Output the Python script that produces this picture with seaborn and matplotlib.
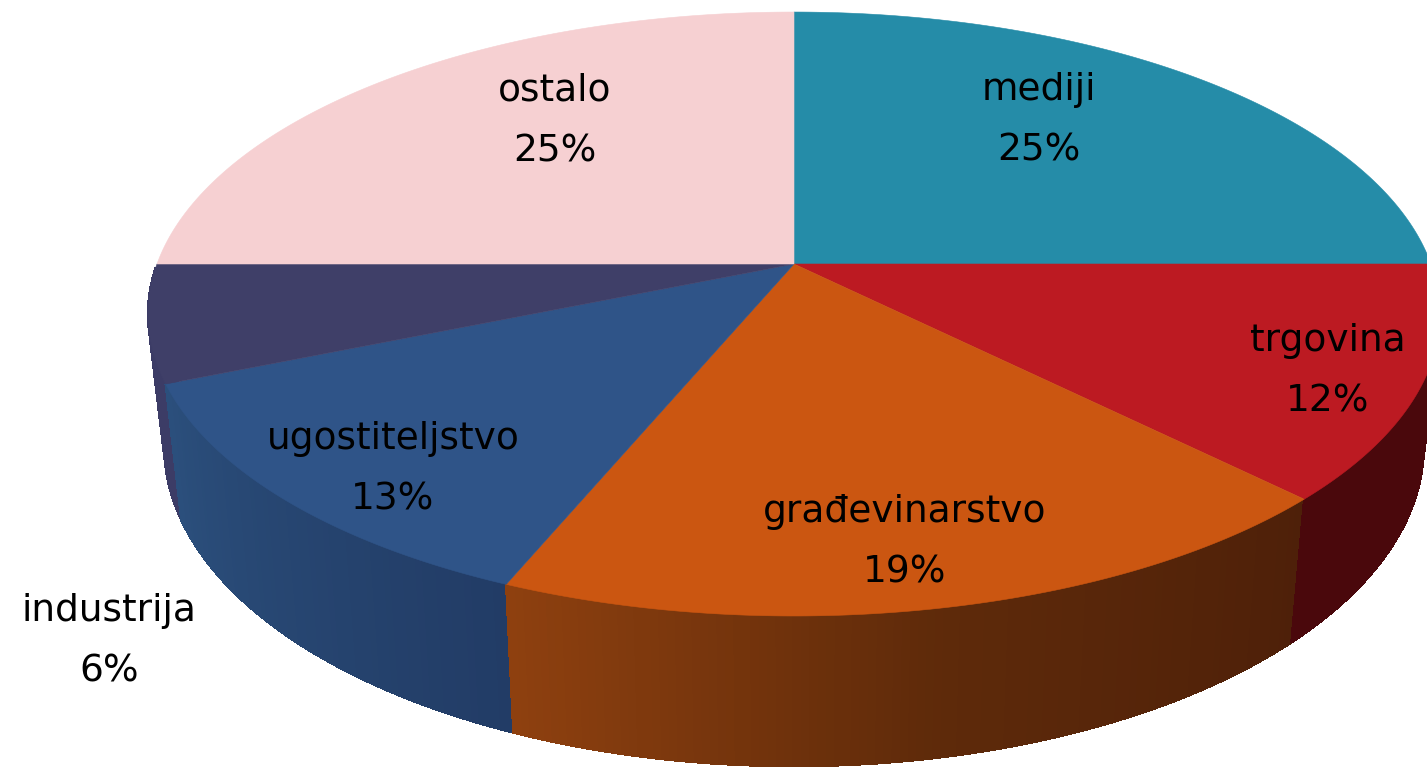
import numpy as np
import matplotlib
matplotlib.use("Agg")
import matplotlib.pyplot as plt
from matplotlib.patches import Rectangle
import seaborn as sns

# --- Data ---
categories = ["mediji", "trgovina", "građevinarstvo", "ugostiteljstvo", "industrija", "ostalo"]
shares = [25, 12.5, 18.75, 12.5, 6.25, 25]
pct_labels = ["25%", "12%", "19%", "13%", "6%", "25%"]

top_colors = ["#258CA8", "#BC1A22", "#CB5611", "#2F5488", "#3F3F68", "#F6D0D2"]
# wall shading stops, right end to left end of each slice (None = wall not visible)
wall_stops = [
    None,
    ["#4A080C", "#4A080C"],
    ["#4E2009", "#5E2A0A", "#8E400F"],
    ["#223C66", "#2B4F7C"],
    ["#3C3C66", "#3C3C66"],
    None,
]

label_xy = [(1039, 120), (1328, 371), (905, 542), (393, 469), (109, 641), (555, 121)]

# --- Pie geometry (pixels) ---
W, H = 1427, 768
CX, CY = 794, 264
RX, RY, K = 637, 293.7, 0.1656
WALL_SX, WALL_SY, WALL_Y = 0.975, 1.06, 393
LEFT_WRAP = 0.06 * np.pi  # the left wall runs a little past the 9 o'clock line


def top_xy(theta):
    u, v = np.cos(theta), np.sin(theta)
    d = 1 - K * v
    return CX + RX * u / d, CY + RY * v / d


def bottom_xy(theta):
    x, y = top_xy(theta)
    return CX + WALL_SX * (x - CX), WALL_Y + WALL_SY * (y - CY)


sns.set_theme(style="white")
fig, ax = plt.subplots(figsize=(W / 100, H / 100), dpi=100)
ax.set_position([0, 0, 1, 1])
ax.set_xlim(0, W)
ax.set_ylim(H, 0)
ax.axis("off")

# slice boundaries, clockwise from 12 o'clock
edges = np.radians(np.cumsum([0] + shares) / sum(shares) * 360 - 90)

# walls stay below the 9 o'clock line so nothing pokes out behind the pink slice
wall_clip = Rectangle((0, CY + 3), W, H, transform=ax.transData)

# side walls first
for i, stops in enumerate(wall_stops):
    if stops is None:
        continue
    a, b = edges[i], edges[i + 1]
    if i == 4:
        b += LEFT_WRAP
    n = max(int((b - a) * 90), 2)
    ts = np.linspace(a, b, n + 1)
    pal = sns.blend_palette(stops, n)
    for j in range(n):
        x0, y0 = top_xy(ts[j])
        x1, y1 = top_xy(ts[j + 1])
        x2, y2 = bottom_xy(ts[j + 1])
        x3, y3 = bottom_xy(ts[j])
        for poly in ax.fill([x0, x1, x2, x3], [y0, y1, y2, y3], color=pal[j], lw=1,
                            antialiased=False, zorder=6 - i):
            poly.set_clip_path(wall_clip)

# top faces
for i in range(len(shares)):
    ts = np.linspace(edges[i], edges[i + 1], 200)
    xs, ys = top_xy(ts)
    ax.fill(np.r_[CX, xs], np.r_[CY, ys], color=top_colors[i], lw=0.4, zorder=10)

# labels
for name, pct, (x, y) in zip(categories, pct_labels, label_xy):
    ax.text(x, y, f"{name}\n{pct}", ha="center", va="center", fontsize=27,
            color="black", linespacing=1.86, zorder=20)

plt.savefig("out.png", dpi=100)
